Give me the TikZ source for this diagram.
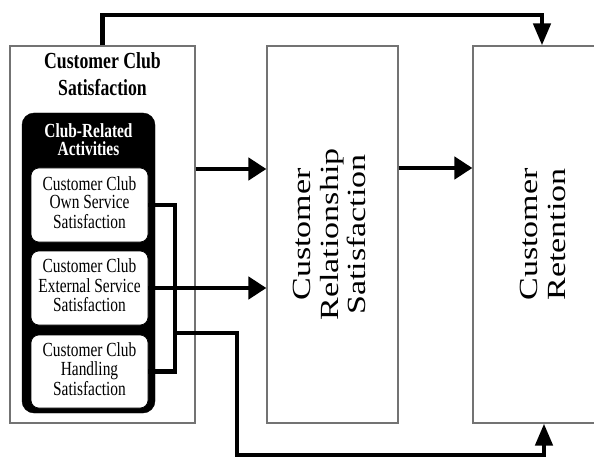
\documentclass[tikz,border=0pt]{standalone}
\usepackage{fontspec}
\setmainfont{Liberation Serif}
\usepackage{graphicx}
\usetikzlibrary{arrows.meta}

% condensed multi-line text: size, leading, lines
\newcommand{\narrowtext}[3]{\scalebox{0.77}[1]{\fontsize{#1}{#2}\selectfont\begin{tabular}{@{}c@{}}#3\end{tabular}}}
\newcommand{\uprighttext}[1]{\scalebox{1}[0.77]{\fontsize{34}{36}\selectfont\begin{tabular}{@{}c@{}}#1\end{tabular}}}

\begin{document}
\begin{tikzpicture}[x=1pt,y=-1pt,
  frame/.style={draw=black!55, line width=1.2pt, fill=white, inner sep=0pt},
  group/.style={draw=black, fill=black, rounded corners=12pt, inner sep=0pt},
  item/.style={draw=black, fill=white, line width=0.6pt, rounded corners=8pt, inner sep=0pt,
               minimum width=117pt},
  label/.style={inner sep=0pt},
  conn/.style={line width=4.5pt, draw=black},
  harrow/.style={conn, -{Triangle[length=18pt,width=22pt]}},
  varrow/.style={conn, -{Triangle[length=22pt,width=17pt]}}]

\clip (0,0) rectangle (594,457);
\fill[white] (0,0) rectangle (594,457);

% main blocks
\node[frame, minimum width=185pt, minimum height=377pt] (ccs) at (102.5,234.5) {};
\node[frame, minimum width=131pt, minimum height=377pt] (crs) at (332.5,234.5) {};
\node[frame, minimum width=146pt, minimum height=377pt] (ret) at (546,234.5) {};

\node[label] (ccstitle) at (102.5,77) {\narrowtext{23}{27}{\bfseries Customer Club\\\bfseries Satisfaction}};
\node[label, rotate=90] (crstext) at (332.5,234.5) {\uprighttext{Customer\\Relationship\\Satisfaction}};
\node[label, rotate=90] (rettext) at (546,234.5) {\uprighttext{Customer\\Retention}};

% club-related activities group
\node[group, minimum width=133pt, minimum height=300pt] (grp) at (88.5,263) {};
\node[label, text=white] (grptitle) at (88.5,142) {\narrowtext{20}{16}{\bfseries Club-Related\\\bfseries Activities}};
\node[item, minimum height=74pt] (b1) at (89.5,205) {\narrowtext{20}{18}{Customer Club\\Own Service\\Satisfaction}};
\node[item, minimum height=74pt] (b2) at (89.5,288) {\narrowtext{20}{18}{Customer Club\\External Service\\Satisfaction}};
\node[item, minimum height=73pt] (b3) at (89.5,371.5) {\narrowtext{20}{18}{Customer Club\\Handling\\Satisfaction}};

% routing points
\coordinate (topline) at (0,15);
\coordinate (bx) at (175,0);
\coordinate (branch) at (175,333);
\coordinate (drop) at (237,333);
\coordinate (bottomline) at (0,455);
\coordinate (retin) at ([xshift=-4pt]ret.north);
\coordinate (retbelow) at ([xshift=-2pt]ret.south);

% connectors
\draw[varrow] (ccs.north) -- (ccs.north |- topline) -| (retin);
\draw[harrow] (ccs.east |- 0,169) -- (crs.west |- 0,169);
\draw[harrow] (crs.east |- 0,168) -- (ret.west |- 0,168);
\draw[harrow] (b2.east) -- (crs.west |- b2.east);
\draw[conn] (b1.east) -- (b1.east -| bx) -- (b3.east -| bx) -- (b3.east);
\draw[varrow] (branch) -- (drop) -- (drop |- bottomline) -| (retbelow);
\end{tikzpicture}
\end{document}
